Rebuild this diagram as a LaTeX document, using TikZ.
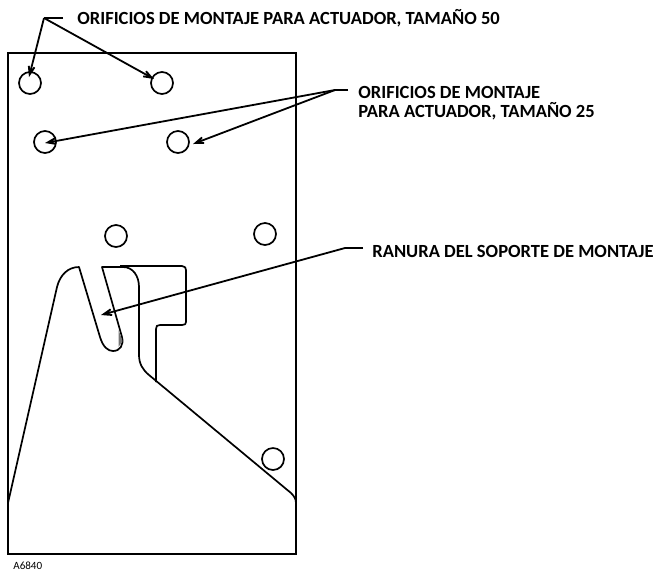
\documentclass[tikz,border=0pt]{standalone}
\usepackage{fontspec}
\setmainfont{Carlito}
\usetikzlibrary{arrows.meta}
\tikzset{
	hole/.style={circle,draw,line width=0.34mm,minimum size=4.4mm,inner sep=0pt},
	callout/.style={font=\bfseries\fontsize{10.55}{10.8}\selectfont,anchor=west,align=left,inner sep=0pt},
	tick/.style={line width=0.36mm},
	leader/.style={line width=0.36mm,-{Stealth[length=4.4mm,width=3.2mm,inset=3mm]}},
	outline/.style={line width=0.34mm,line join=round}
}
\begin{document}
\begin{tikzpicture}[x=0.2mm,y=-0.2mm]
	\useasboundingbox (0,0) rectangle (655,573);

	% Plate
	\draw[line width=0.38mm] (8,53) rectangle (296,554);

	% Holes
	\node[hole] (holeA) at (30,83) {};
	\node[hole] (holeB) at (162,83) {};
	\node[hole] (holeC) at (45,142) {};
	\node[hole] (holeD) at (178,142) {};
	\node[hole] (holeE) at (116,236) {};
	\node[hole] (holeF) at (265,234) {};
	\node[hole] (holeG) at (273,459) {};

	% Slot
	\draw[outline] (8,503) -- (57,287) .. controls (60,275) and (68,267) .. (79,267)
		-- (100,337) .. controls (103,347) and (108,351) .. (113,351)
		.. controls (120,351) and (124,345) .. (122,337) -- (102,267) -- (123,267)
		.. controls (133,267) and (139,276) .. (139,287) -- (139,355)
		.. controls (139,364) and (143,370) .. (149,375) -- (291,493)
		.. controls (294,496) and (296,499) .. (296,503);

	% Bracket
	\draw[outline] (120,266) -- (182,266) .. controls (185,266) and (186,268) .. (186,270)
		-- (186,322) .. controls (186,324) and (185,325) .. (182,325)
		-- (160,325) .. controls (157,325) and (156,326) .. (156,329) -- (156,382);
	\fill[black!55] (118.5,330) -- (122.5,341) -- (118.5,347) -- cycle;

	% Labels
	\node[callout] (size50) at (77,18) {ORIFICIOS DE MONTAJE PARA ACTUADOR, TAMAÑO 50};
	\node[callout] (size25) at (358,103) {ORIFICIOS DE MONTAJE\\PARA ACTUADOR, TAMAÑO 25};
	\node[callout] (slot) at (372,251) {RANURA DEL SOPORTE DE MONTAJE};
	\node[anchor=west,inner sep=0pt,font=\fontsize{6.3}{7}\selectfont] (code) at (13,566) {A6840};

	% Leaders
	\coordinate (forkA) at (44,18);
	\coordinate (forkB) at (335,90);
	\coordinate (forkC) at (345,248);
	\coordinate (endA) at (29,77);
	\coordinate (endB) at (154,79);
	\coordinate (endC) at (45,143);
	\coordinate (endD) at (193,144);
	\coordinate (endE) at (101,315);
	\draw[tick] (63,18) -- (forkA);
	\draw[leader] (forkA) -- (endA);
	\draw[leader] (forkA) -- (endB);
	\draw[tick] (348,90) -- (forkB);
	\draw[leader] (forkB) -- (endC);
	\draw[leader] (forkB) -- (endD);
	\draw[tick] (363,248) -- (forkC);
	\draw[leader] (forkC) -- (endE);
\end{tikzpicture}
\end{document}
